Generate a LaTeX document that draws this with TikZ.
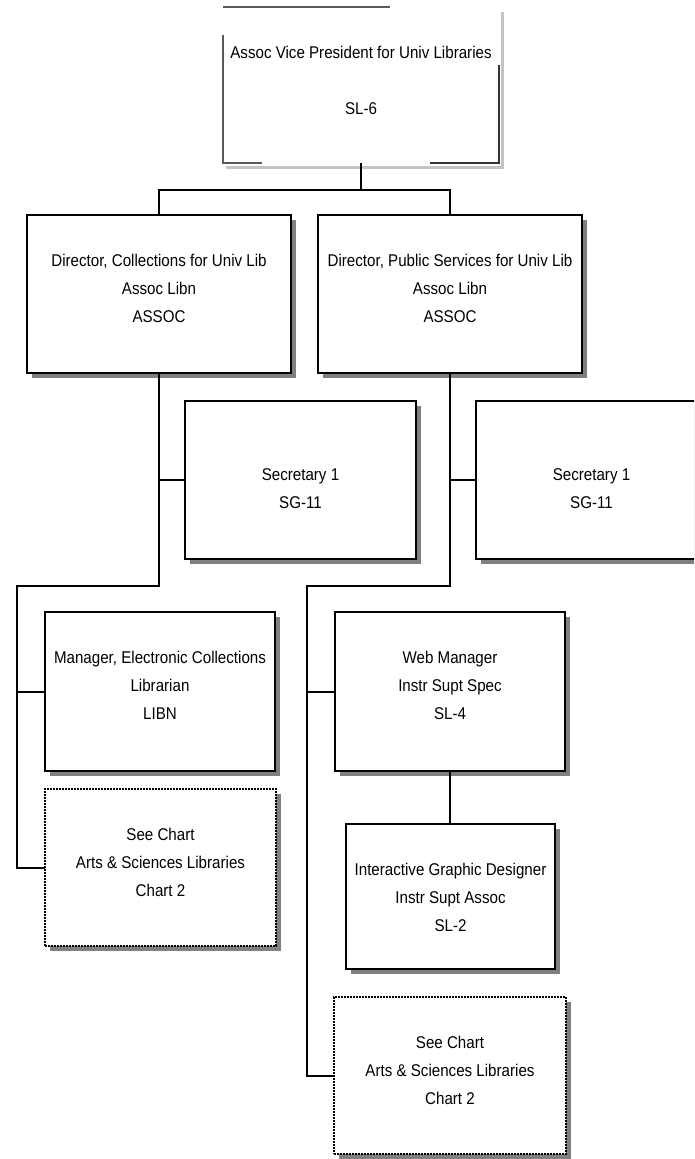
\documentclass[tikz,border=0pt]{standalone}
\usepackage{fontspec}
\setmainfont{Liberation Sans}[FakeStretch=0.89]
\usetikzlibrary{shadows}
\definecolor{shadowgray}{HTML}{808080}
\definecolor{lightshadow}{HTML}{C4C4C4}
\definecolor{edgegray}{HTML}{5A5A5A}
\newcommand{\orgtext}[4]{\parbox[c][#2][t]{#1}{\centering\rule{0pt}{#3}#4}}
\tikzset{
  orgbox/.style={draw=black, line width=2pt, fill=white, inner sep=0pt, outer sep=0pt,
    general shadow={fill=shadowgray, shadow xshift=5pt, shadow yshift=-5pt},
    font=\fontsize{17}{28}\selectfont},
  refbox/.style={orgbox, line width=2.2pt, dash pattern=on 1.8pt off 1.2pt},
  plainbox/.style={draw=none, inner sep=0pt, outer sep=0pt, font=\fontsize{17}{28}\selectfont},
  conn/.style={line width=2pt},
  topedge/.style={line width=1.5pt, draw=edgegray},
  topshadow/.style={line width=3pt, draw=lightshadow}
}
\begin{document}
\begin{tikzpicture}[x=1pt,y=-1pt]
\useasboundingbox (0,0) rectangle (694,1159);
\clip (0,0) rectangle (694,1159);

% top box (partially drawn frame)
\node[plainbox] (avp) at (361,85) {\orgtext{276pt}{156pt}{51pt}{Assoc Vice President for Univ Libraries\\[28pt]SL-6}};
\draw[topshadow] (502,12) -- (502,167) -- (226,167);
\draw[topedge] (avp.north west) -- ++(167,0);
\draw[topedge] (223,35) -- (avp.south west) -- ++(39,0);
\draw[topedge, draw=black!80] (499,65) -- (avp.south east) -- ++(-69,0);

% directors
\node[orgbox] (d1) at (159,294) {\orgtext{264pt}{158pt}{51pt}{Director, Collections for Univ Lib\\Assoc Libn\\ASSOC}};
\node[orgbox] (d2) at (450,294) {\orgtext{264pt}{158pt}{51pt}{Director, Public Services for Univ Lib\\Assoc Libn\\ASSOC}};

% secretaries
\node[orgbox] (s1) at (300.5,480) {\orgtext{231pt}{158pt}{79pt}{Secretary 1\\SG-11}};
\node[orgbox] (s2) at (591.5,480) {\orgtext{231pt}{158pt}{79pt}{Secretary 1\\SG-11}};

% left column
\node[orgbox] (m1) at (160,691.5) {\orgtext{230pt}{159pt}{51pt}{Manager, Electronic Collections\\Librarian\\LIBN}};
\node[refbox] (c1) at (160.5,867.5) {\orgtext{231pt}{157pt}{51pt}{See Chart\\Arts \& Sciences Libraries\\Chart 2}};

% right column
\node[orgbox] (wm) at (450,691.5) {\orgtext{230pt}{159pt}{51pt}{Web Manager\\Instr Supt Spec\\SL-4}};
\node[orgbox] (igd) at (450.5,896.5) {\orgtext{209pt}{145pt}{51pt}{Interactive Graphic Designer\\Instr Supt Assoc\\SL-2}};
\node[refbox] (c2) at (450,1075.5) {\orgtext{232pt}{157pt}{51pt}{See Chart\\Arts \& Sciences Libraries\\Chart 2}};

% connectors
\coordinate (bus) at (361,190);
\coordinate (lb) at (17,586);
\coordinate (rb) at (307,586);
\draw[conn] (avp.south) -- (bus);
\draw[conn] (bus) -| (d1.north);
\draw[conn] (bus) -| (d2.north);

\draw[conn] (d1.south) |- (lb) -- (lb |- c1.west) -- (c1.west);
\draw[conn] (d1.south |- s1.west) -- (s1.west);
\draw[conn] (lb |- m1.west) -- (m1.west);

\draw[conn] (d2.south) |- (rb) -- (rb |- c2.west) -- (c2.west);
\draw[conn] (d2.south |- s2.west) -- (s2.west);
\draw[conn] (rb |- wm.west) -- (wm.west);
\draw[conn] (wm.south) -- (wm.south |- igd.north);
\end{tikzpicture}
\end{document}
